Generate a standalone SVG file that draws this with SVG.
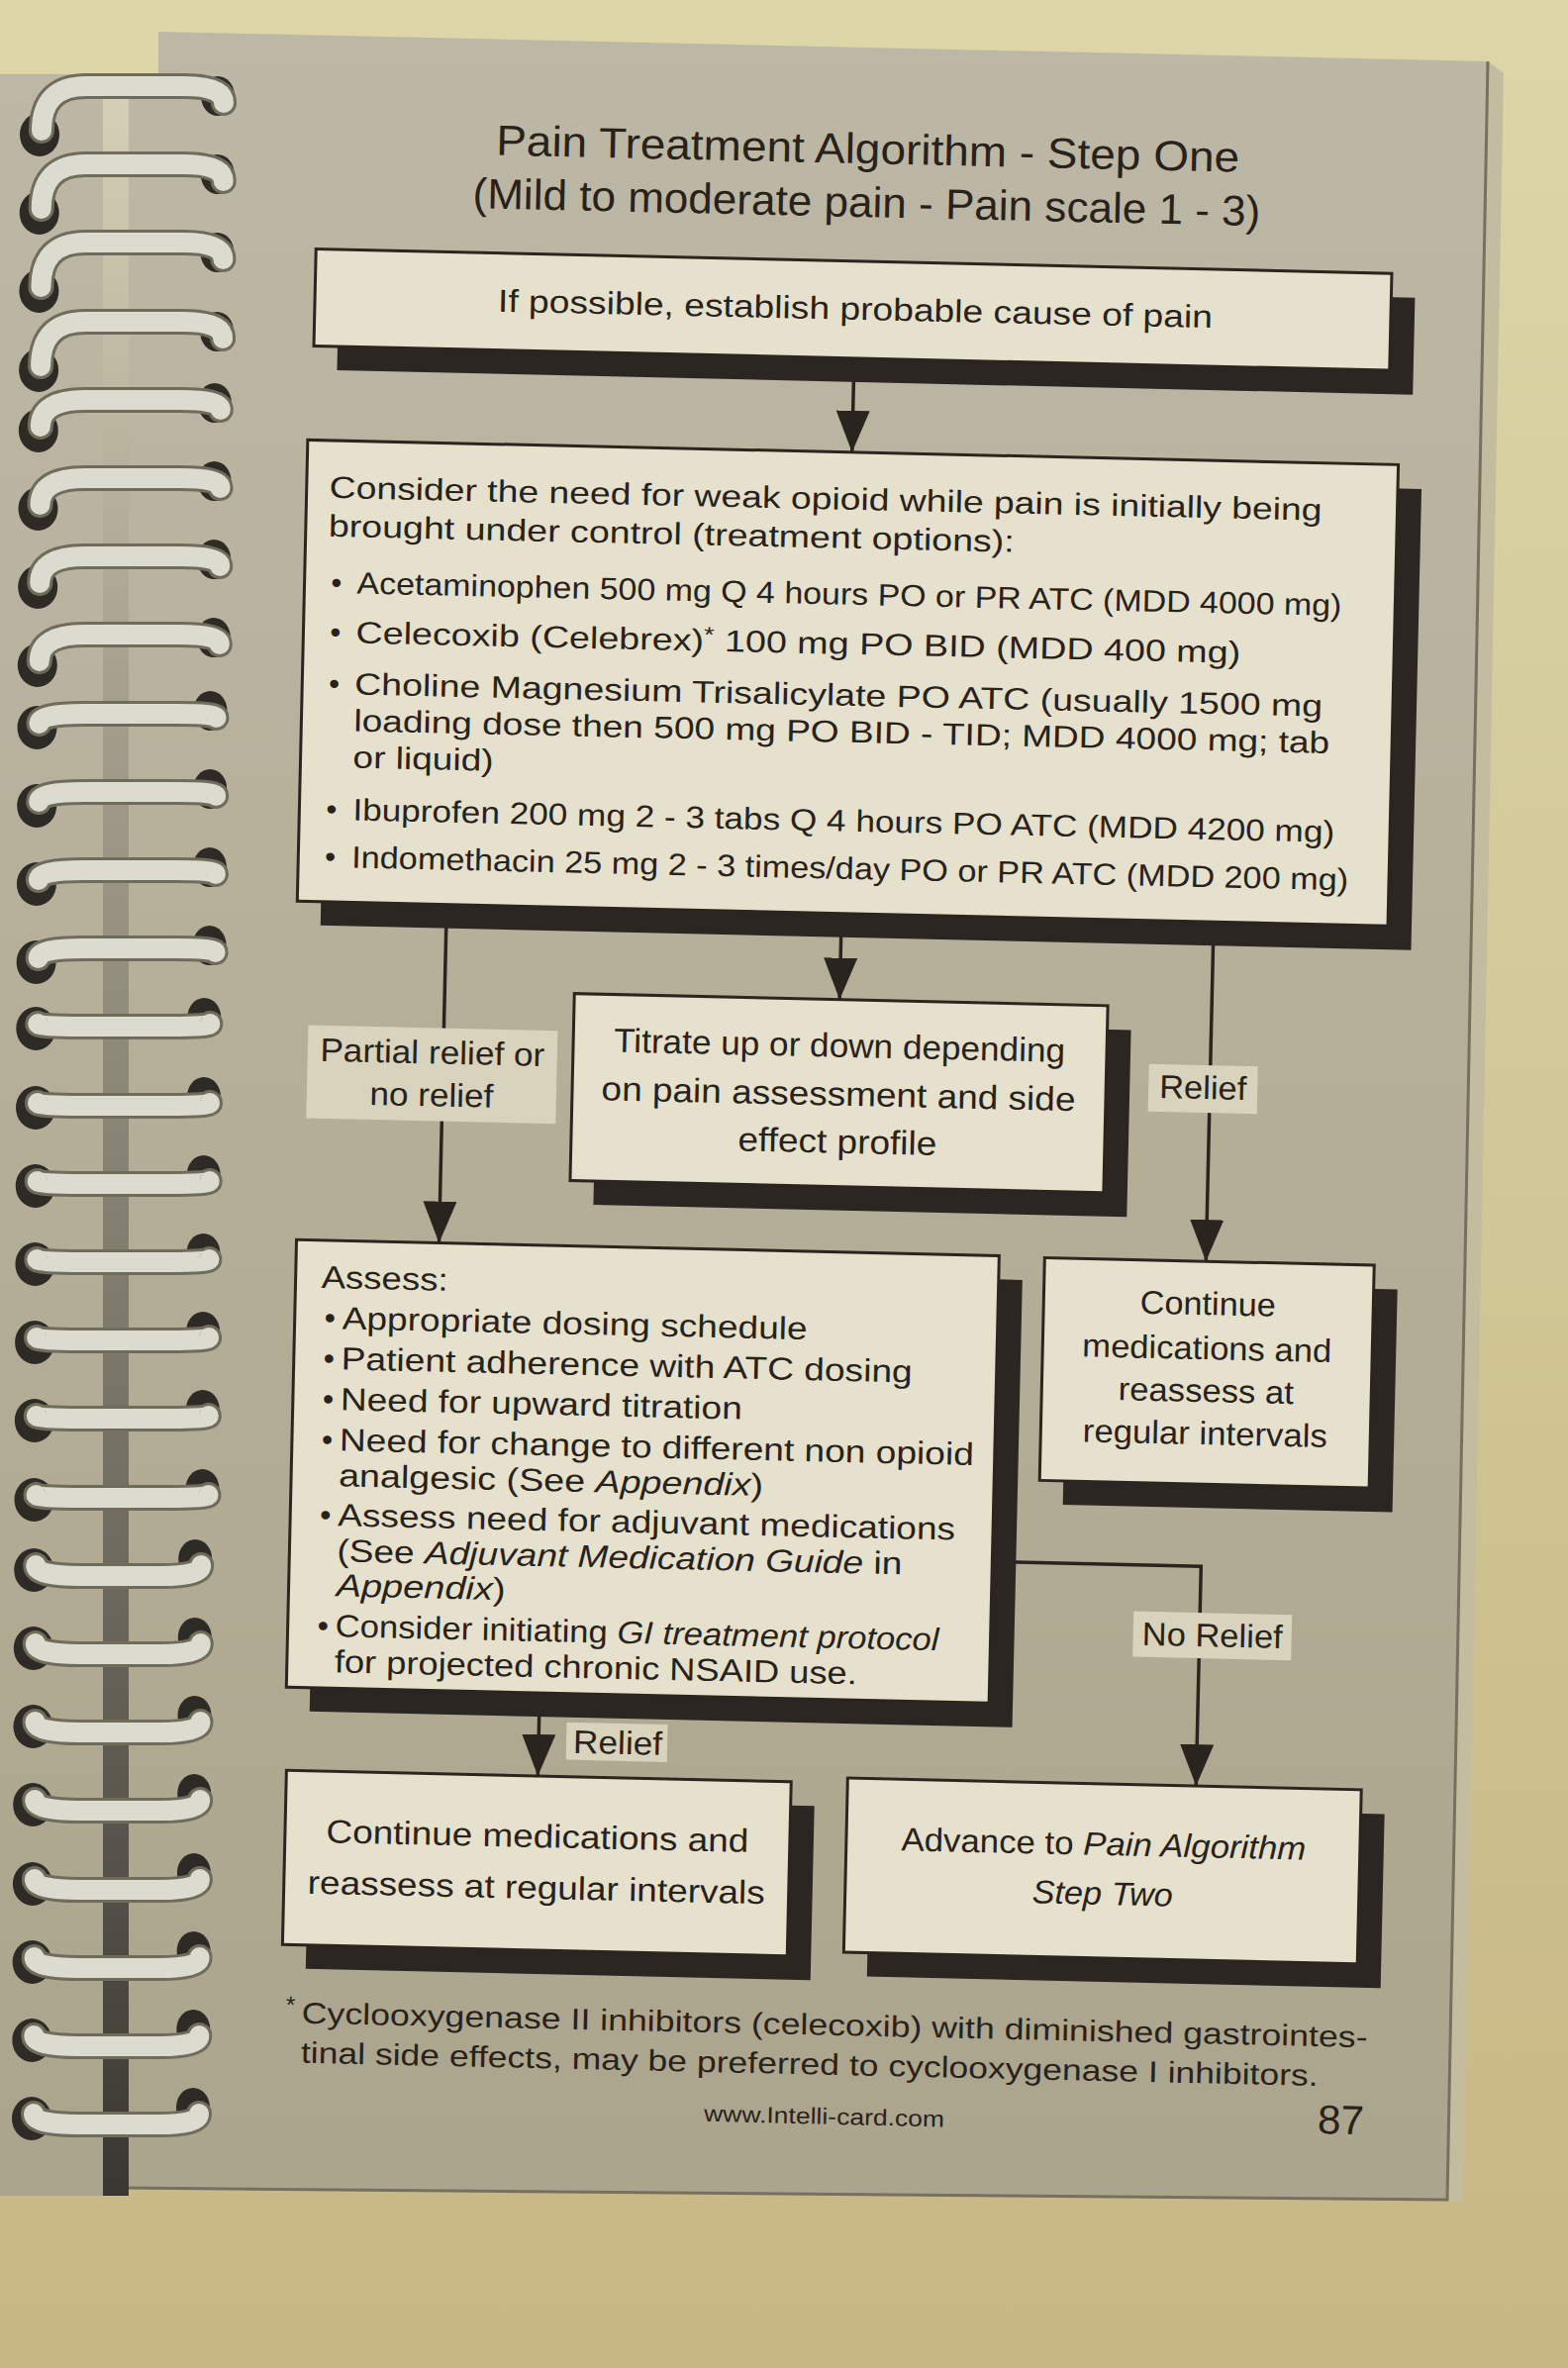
<svg xmlns="http://www.w3.org/2000/svg" width="1584" height="2392" viewBox="0 0 1584 2392">
<defs>
<linearGradient id="bg" x1="0" y1="0" x2="0" y2="1"><stop offset="0" stop-color="#dcd6a8"/><stop offset="1" stop-color="#c7b784"/></linearGradient>
<linearGradient id="pageg" x1="0" y1="0" x2="0" y2="1"><stop offset="0" stop-color="#bdb8a5"/><stop offset="1" stop-color="#aca58d"/></linearGradient>
<linearGradient id="spineg" x1="0" y1="0" x2="0" y2="1"><stop offset="0" stop-color="#d6d0b6"/><stop offset="0.3" stop-color="#a39e8c"/><stop offset="0.7" stop-color="#6e6a5e"/><stop offset="1" stop-color="#3a3732"/></linearGradient>
<marker id="ah" viewBox="0 0 42 34" refX="42" refY="17" markerWidth="42" markerHeight="34" markerUnits="userSpaceOnUse" orient="auto"><path d="M0,0 L42,17 L0,34 Z" fill="#2a241e"/></marker>
<g id="cA"><ellipse class="hole" cx="-2" cy="49" rx="20" ry="22"/><ellipse class="hole" cx="178" cy="10" rx="17" ry="20"/><path class="coilo" d="M0,45 Q0,0 45,0 L144,0 Q184,0 184,17"/><path class="coil" d="M0,45 Q0,0 45,0 L144,0 Q184,0 184,17"/></g>
<g id="cB"><ellipse class="hole" cx="-2" cy="31" rx="20" ry="22"/><ellipse class="hole" cx="176" cy="3" rx="17" ry="20"/><path class="coilo" d="M0,27 Q0,0 45,0 L142,0 Q182,0 182,10"/><path class="coil" d="M0,27 Q0,0 45,0 L142,0 Q182,0 182,10"/></g>
<g id="cC"><ellipse class="hole" cx="-2" cy="14" rx="20" ry="22"/><ellipse class="hole" cx="173" cy="-3" rx="17" ry="20"/><path class="coilo" d="M0,10 Q0,0 45,0 L139,0 Q179,0 179,4"/><path class="coil" d="M0,10 Q0,0 45,0 L139,0 Q179,0 179,4"/></g>
<g id="cD"><ellipse class="hole" cx="-2" cy="2" rx="20" ry="22"/><ellipse class="hole" cx="168" cy="-9" rx="17" ry="20"/><path class="coilo" d="M0,-3 Q0,0 45,0 L134,0 Q174,0 174,-3"/><path class="coil" d="M0,-3 Q0,0 45,0 L134,0 Q174,0 174,-3"/></g>
<g id="cE"><ellipse class="hole" cx="-2" cy="-6" rx="20" ry="22"/><ellipse class="hole" cx="161" cy="-17" rx="17" ry="20"/><path class="coilo" d="M0,-11 Q0,0 45,0 L127,0 Q167,0 167,-11"/><path class="coil" d="M0,-11 Q0,0 45,0 L127,0 Q167,0 167,-11"/></g>
</defs>
<style>
.box{fill:#e5e1cc;stroke:#2c251f;stroke-width:3}
.shadow{fill:#2b2621}
.lbl{fill:#d8d3bd}
.t{font-family:"Liberation Sans",Arial,Helvetica,sans-serif;fill:#29221b}
.c{text-anchor:middle}
.i{font-style:italic}
.conn{fill:none;stroke:#2a241e;stroke-width:3.5}
.hole{fill:#2e2a25}
.coilo{fill:none;stroke:#706c5b;stroke-width:26;stroke-linecap:round}
.coil{fill:none;stroke:#dcdbcf;stroke-width:20;stroke-linecap:round}
</style>
<rect x="0" y="0" width="1584" height="2392" fill="url(#bg)"/>
<g id="page">
<polygon points="1503,62 1519,74 1478,2226 1462,2222" fill="#c4bc9e"/>
<polygon points="0,75 107,75 107,2218 0,2218" fill="url(#pageg)"/>
<polygon points="160,32 1503,62 1462,2222 125,2210 125,75 160,75" fill="url(#pageg)"/>
<polyline points="125,2210 1462,2222 1503,62" fill="none" stroke="#776f60" stroke-width="3"/>
<rect x="104" y="85" width="26" height="2133" fill="url(#spineg)"/>
</g>
<g id="spiral">
<use href="#cA" x="42" y="87"/><use href="#cA" x="41.7" y="166"/><use href="#cA" x="41.4" y="245"/><use href="#cA" x="41.1" y="325"/>
<use href="#cB" x="40.8" y="404"/><use href="#cB" x="40.5" y="483"/><use href="#cB" x="40.2" y="562"/><use href="#cB" x="39.8" y="641"/>
<use href="#cC" x="39.5" y="721"/><use href="#cC" x="39.2" y="800"/><use href="#cC" x="38.9" y="879"/><use href="#cC" x="38.6" y="958"/>
<use href="#cD" x="38.3" y="1037"/><use href="#cD" x="38" y="1117"/><use href="#cD" x="37.7" y="1196"/><use href="#cD" x="37.4" y="1275"/><use href="#cD" x="37.1" y="1354"/><use href="#cD" x="36.8" y="1433"/><use href="#cD" x="36.5" y="1513"/>
<use href="#cE" x="36.2" y="1592"/><use href="#cE" x="35.8" y="1671"/><use href="#cE" x="35.5" y="1750"/><use href="#cE" x="35.2" y="1829"/><use href="#cE" x="34.9" y="1909"/><use href="#cE" x="34.6" y="1988"/><use href="#cE" x="34.3" y="2067"/><use href="#cE" x="34" y="2146"/>
</g>
<g transform="rotate(1.3 860 1150)">
<g id="title">
<text class="t c" x="854" y="165" font-size="43" fill="#3b342c" textLength="751" lengthAdjust="spacingAndGlyphs">Pain Treatment Algorithm - Step One</text>
<text class="t c" x="854" y="219" font-size="43" fill="#3b342c" textLength="796" lengthAdjust="spacingAndGlyphs">(Mild to moderate pain - Pain scale 1 - 3)</text>
</g>
<g id="connectors">
<path class="conn" d="M845,364 L845,457" marker-end="url(#ah)"/>
<path class="conn" d="M446,923 L446,1265" marker-end="url(#ah)"/>
<path class="conn" d="M845,923 L845,1010" marker-end="url(#ah)"/>
<path class="conn" d="M1221,923 L1221,1266" marker-end="url(#ah)"/>
<path class="conn" d="M1012,1574 L1223,1574 L1223,1796" marker-end="url(#ah)"/>
<path class="conn" d="M558,1717 L558,1801" marker-end="url(#ah)"/>
<rect class="lbl" x="309" y="1048" width="252" height="94"/>
<text class="t c" x="435" y="1084" font-size="33" textLength="227" lengthAdjust="spacingAndGlyphs">Partial relief or</text>
<text class="t c" x="435" y="1127" font-size="33" textLength="125" lengthAdjust="spacingAndGlyphs">no relief</text>
<rect class="lbl" x="1159" y="1068" width="110" height="48"/>
<text class="t c" x="1214" y="1102" font-size="33" textLength="88" lengthAdjust="spacingAndGlyphs">Relief</text>
<rect class="lbl" x="1156" y="1621" width="160" height="46"/>
<text class="t c" x="1236" y="1655" font-size="33" textLength="142" lengthAdjust="spacingAndGlyphs">No Relief</text>
<rect class="lbl" x="586" y="1746" width="102" height="38"/>
<text class="t c" x="638" y="1777" font-size="33" textLength="90" lengthAdjust="spacingAndGlyphs">Relief</text>
</g>
<g id="n1">
<rect class="shadow" x="323" y="288" width="1087" height="98"/>
<rect class="box" x="299" y="264" width="1087" height="98"/>
<text class="t c" x="845" y="323" font-size="32" textLength="722" lengthAdjust="spacingAndGlyphs">If possible, establish probable cause of pain</text>
</g>
<g id="n2">
<rect class="shadow" x="319" y="481" width="1102" height="466"/>
<rect class="box" x="295" y="457" width="1102" height="466"/>
<text class="t" x="318" y="515" font-size="31" textLength="1003" lengthAdjust="spacingAndGlyphs">Consider the need for weak opioid while pain is initially being</text>
<text class="t" x="318" y="554" font-size="31" textLength="693" lengthAdjust="spacingAndGlyphs">brought under control (treatment options):</text>
<text class="t" x="322" y="611" font-size="31">•</text>
<text class="t" x="348" y="611" font-size="31" textLength="995" lengthAdjust="spacingAndGlyphs">Acetaminophen 500 mg Q 4 hours PO or PR ATC (MDD 4000 mg)</text>
<text class="t" x="322" y="661" font-size="31">•</text>
<text class="t" x="348" y="661" font-size="31" textLength="894" lengthAdjust="spacingAndGlyphs">Celecoxib (Celebrex)<tspan font-size="22" dy="-9">*</tspan><tspan dy="9"> 100 mg PO BID (MDD 400 mg)</tspan></text>
<text class="t" x="322" y="713" font-size="31">•</text>
<text class="t" x="348" y="713" font-size="31" textLength="978" lengthAdjust="spacingAndGlyphs">Choline Magnesium Trisalicylate PO ATC  (usually 1500 mg</text>
<text class="t" x="348" y="750" font-size="31" textLength="986" lengthAdjust="spacingAndGlyphs">loading dose then 500 mg PO BID - TID; MDD 4000 mg; tab</text>
<text class="t" x="348" y="787" font-size="31" textLength="142" lengthAdjust="spacingAndGlyphs">or liquid)</text>
<text class="t" x="322" y="840" font-size="31">•</text>
<text class="t" x="349" y="840" font-size="31" textLength="992" lengthAdjust="spacingAndGlyphs">Ibuprofen 200 mg 2 - 3  tabs Q 4 hours PO ATC (MDD 4200 mg)</text>
<text class="t" x="322" y="888" font-size="31">•</text>
<text class="t" x="349" y="888" font-size="31" textLength="1007" lengthAdjust="spacingAndGlyphs">Indomethacin 25 mg 2 - 3 times/day PO or PR ATC (MDD 200 mg)</text>
</g>
<g id="n3">
<rect class="shadow" x="601" y="1034" width="539" height="189"/>
<rect class="box" x="577" y="1010" width="539" height="189"/>
<text class="t c" x="846" y="1068" font-size="34" textLength="456" lengthAdjust="spacingAndGlyphs">Titrate up or down depending</text>
<text class="t c" x="846" y="1117" font-size="34" textLength="479" lengthAdjust="spacingAndGlyphs">on pain assessment and side</text>
<text class="t c" x="846" y="1165" font-size="34" textLength="201" lengthAdjust="spacingAndGlyphs">effect profile</text>
</g>
<g id="n4">
<rect class="shadow" x="326" y="1289" width="710" height="452"/>
<rect class="box" x="302" y="1265" width="710" height="452"/>
<text class="t" x="328" y="1313" font-size="32" textLength="128" lengthAdjust="spacingAndGlyphs">Assess:</text>
<text class="t" x="332" y="1354" font-size="32">•</text>
<text class="t" x="350" y="1354" font-size="32" textLength="470" lengthAdjust="spacingAndGlyphs">Appropriate dosing schedule</text>
<text class="t" x="332" y="1395" font-size="32">•</text>
<text class="t" x="350" y="1395" font-size="32" textLength="577" lengthAdjust="spacingAndGlyphs">Patient adherence with ATC dosing</text>
<text class="t" x="332" y="1436" font-size="32">•</text>
<text class="t" x="350" y="1436" font-size="32" textLength="406" lengthAdjust="spacingAndGlyphs">Need for upward titration</text>
<text class="t" x="332" y="1477" font-size="32">•</text>
<text class="t" x="350" y="1477" font-size="32" textLength="641" lengthAdjust="spacingAndGlyphs">Need for change to different non opioid</text>
<text class="t" x="350" y="1513" font-size="32" textLength="429" lengthAdjust="spacingAndGlyphs">analgesic (See <tspan class="i">Appendix</tspan>)</text>
<text class="t" x="332" y="1553" font-size="32">•</text>
<text class="t" x="350" y="1553" font-size="32" textLength="624" lengthAdjust="spacingAndGlyphs">Assess need for adjuvant medications</text>
<text class="t" x="350" y="1589" font-size="32" textLength="571" lengthAdjust="spacingAndGlyphs">(See <tspan class="i">Adjuvant Medication Guide</tspan> in</text>
<text class="t" x="350" y="1624" font-size="32" textLength="171" lengthAdjust="spacingAndGlyphs"><tspan class="i">Appendix</tspan>)</text>
<text class="t" x="332" y="1665" font-size="32">•</text>
<text class="t" x="350" y="1665" font-size="32" textLength="610" lengthAdjust="spacingAndGlyphs">Consider initiating <tspan class="i">GI treatment protocol</tspan></text>
<text class="t" x="350" y="1701" font-size="32" textLength="528" lengthAdjust="spacingAndGlyphs">for projected chronic NSAID use.</text>
</g>
<g id="n5">
<rect class="shadow" x="1082" y="1290" width="333" height="225"/>
<rect class="box" x="1058" y="1266" width="333" height="225"/>
<text class="t c" x="1224" y="1320" font-size="33" textLength="137" lengthAdjust="spacingAndGlyphs">Continue</text>
<text class="t c" x="1224" y="1365" font-size="33" textLength="252" lengthAdjust="spacingAndGlyphs">medications and</text>
<text class="t c" x="1224" y="1408" font-size="33" textLength="177" lengthAdjust="spacingAndGlyphs">reassess at</text>
<text class="t c" x="1224" y="1451" font-size="33" textLength="247" lengthAdjust="spacingAndGlyphs">regular intervals</text>
</g>
<g id="n6">
<rect class="shadow" x="328" y="1825" width="510" height="176"/>
<rect class="box" x="304" y="1801" width="510" height="176"/>
<text class="t c" x="559" y="1873" font-size="33" textLength="427" lengthAdjust="spacingAndGlyphs">Continue medications and</text>
<text class="t c" x="559" y="1925" font-size="33" textLength="462" lengthAdjust="spacingAndGlyphs">reassess at regular intervals</text>
</g>
<g id="n7">
<rect class="shadow" x="895" y="1820" width="519" height="176"/>
<rect class="box" x="871" y="1796" width="519" height="176"/>
<text class="t c" x="1131" y="1868" font-size="33" textLength="409" lengthAdjust="spacingAndGlyphs">Advance to <tspan class="i">Pain Algorithm</tspan></text>
<text class="t c i" x="1131" y="1918" font-size="33" textLength="142" lengthAdjust="spacingAndGlyphs">Step Two</text>
</g>
<g id="footer">
<text class="t" x="309" y="2046" font-size="24">*</text>
<text class="t" x="325" y="2056" font-size="30" textLength="1077" lengthAdjust="spacingAndGlyphs">Cyclooxygenase II inhibitors (celecoxib) with diminished gastrointes-</text>
<text class="t" x="325" y="2096" font-size="30" textLength="1028" lengthAdjust="spacingAndGlyphs">tinal side effects, may be preferred to cyclooxygenase I inhibitors.</text>
<text class="t c" x="855" y="2146" font-size="23" textLength="243" lengthAdjust="spacingAndGlyphs">www.Intelli-card.com</text>
<text class="t c" x="1377" y="2144" font-size="41" textLength="47" lengthAdjust="spacingAndGlyphs">87</text>
</g>
</g>
</svg>
